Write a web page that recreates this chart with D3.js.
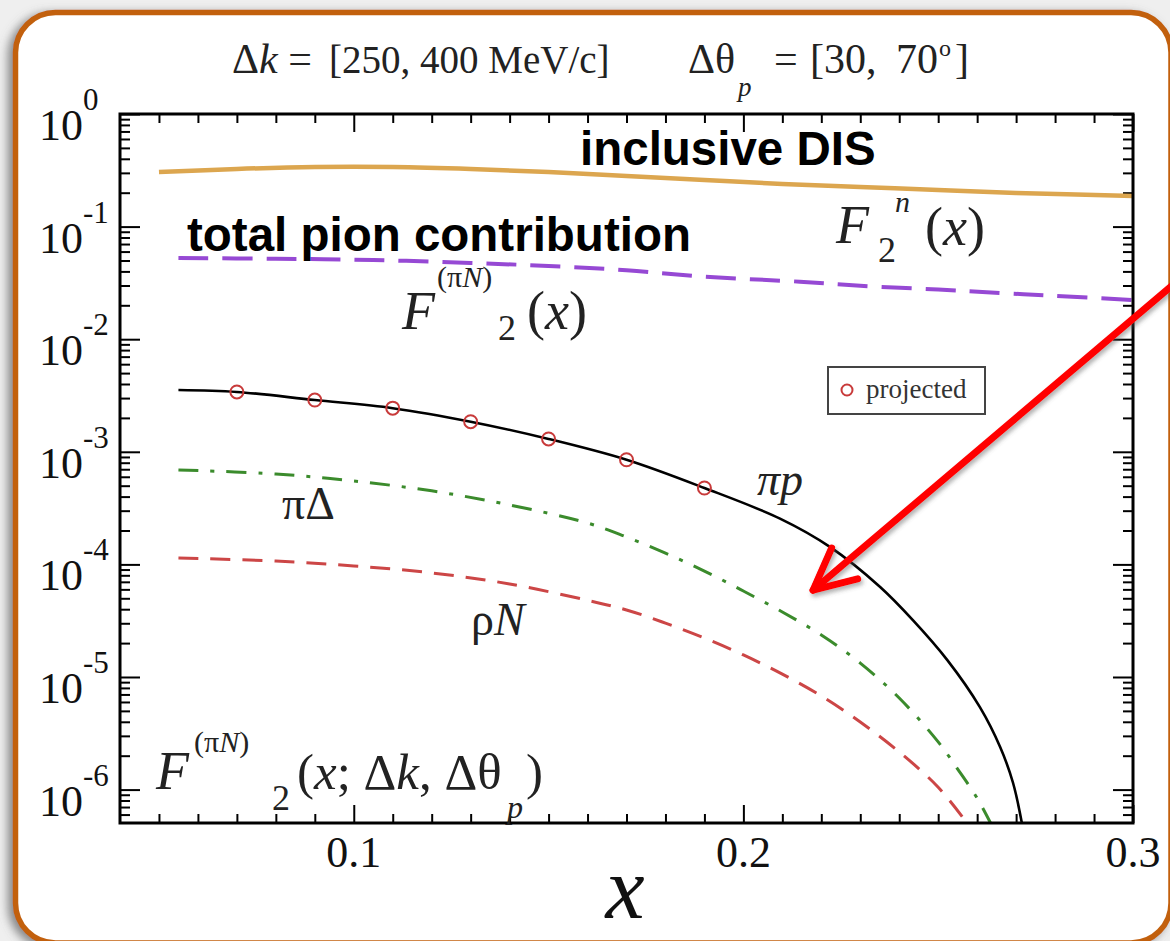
<!DOCTYPE html>
<html>
<head>
<meta charset="utf-8">
<script src="https://cdn.jsdelivr.net/npm/d3@7"></script>
<style>
  html, body { margin: 0; padding: 0; background: #efefef; }
  svg { display: block; }
</style>
</head>
<body>
<svg id="chart" width="1170" height="941"></svg>
<script>
// ---- structure-function curves F2(x) for the tagged-proton kinematics ----
const inclusiveX   = [0.05, 0.07, 0.09, 0.11, 0.13, 0.15, 0.17, 0.19, 0.21, 0.23, 0.25, 0.27, 0.30];
const inclusiveF2n = [0.305, 0.325, 0.338, 0.338, 0.325, 0.305, 0.281, 0.259, 0.239, 0.225, 0.211, 0.199, 0.187];

const pionTotalX  = [0.055, 0.08, 0.105, 0.13, 0.15, 0.17, 0.19, 0.2145, 0.23, 0.25, 0.266, 0.28, 0.30];
const pionTotalF2 = [0.0526, 0.0518, 0.0505, 0.0475, 0.0447, 0.0410, 0.0359, 0.0324, 0.0298, 0.0276, 0.0257, 0.0243, 0.0223];

const piPX  = [0.055, 0.07, 0.09, 0.11, 0.13, 0.15, 0.17, 0.19, 0.2094, 0.2222, 0.2351, 0.2435, 0.2523, 0.2607, 0.2659, 0.2692, 0.2715];
const piPF2 = [3.54e-3, 3.4e-3, 2.88e-3, 2.44e-3, 1.85e-3, 1.30e-3, 8.5e-4, 4.77e-4, 2.55e-4, 1.43e-4, 6.3e-5, 3.2e-5, 1.42e-5, 5.4e-6, 2.39e-6, 1.15e-6, 5.0e-7];

const piDeltaX  = [0.055, 0.08, 0.10, 0.12, 0.14, 0.16, 0.17, 0.18, 0.19, 0.20, 0.21, 0.22, 0.23, 0.24, 0.25, 0.255, 0.26, 0.2635];
const piDeltaF2 = [6.9e-4, 6.35e-4, 5.5e-4, 4.5e-4, 3.37e-4, 2.33e-4, 1.75e-4, 1.26e-4, 8.73e-5, 5.8e-5, 3.78e-5, 2.36e-5, 1.33e-5, 6.5e-6, 2.65e-6, 1.52e-6, 8.4e-7, 5.0e-7];

const rhoNX  = [0.055, 0.08, 0.10, 0.12, 0.14, 0.16, 0.17, 0.18, 0.19, 0.20, 0.21, 0.22, 0.23, 0.24, 0.25, 0.2575];
const rhoNF2 = [1.14e-4, 1.07e-4, 9.7e-5, 8.4e-5, 6.7e-5, 4.8e-5, 3.94e-5, 3.01e-5, 2.22e-5, 1.57e-5, 1.06e-5, 6.78e-6, 3.98e-6, 2.16e-6, 1.05e-6, 5.0e-7];

// projected measurement points on the pi-p curve
const projectedX  = [0.07, 0.09, 0.11, 0.13, 0.15, 0.17, 0.19];
const projectedF2 = [3.4e-3, 2.88e-3, 2.44e-3, 1.85e-3, 1.30e-3, 8.5e-4, 4.77e-4];

// axis ticks
const xMajorTicks  = [0.1, 0.2, 0.3];
const xTickLabels  = ["0.1", "0.2", "0.3"];
const yDecades     = [0, -1, -2, -3, -4, -5, -6];

// annotation arrow target (data coordinates)
const arrowTipX = 0.2179, arrowTipF2 = 5.9e-5;

// ---------------------------------------------------------------------------
const svg = d3.select("#chart");
const plot = { left: 120, right: 1133, top: 114, bottom: 823 };

const serif = "'Liberation Serif', 'Times New Roman', serif";
const sans  = "'Liberation Sans', Arial, sans-serif";

const defs = svg.append("defs");
const shadow = defs.append("filter").attr("id", "cardShadow")
  .attr("x", "-5%").attr("y", "-5%").attr("width", "110%").attr("height", "110%");
shadow.append("feDropShadow").attr("dx", -5).attr("dy", 3)
  .attr("stdDeviation", 5).attr("flood-color", "#666").attr("flood-opacity", 0.75);
const arrowShadow = defs.append("filter").attr("id", "arrowShadow")
  .attr("x", "-20%").attr("y", "-20%").attr("width", "140%").attr("height", "140%");
arrowShadow.append("feDropShadow").attr("dx", 2).attr("dy", 3)
  .attr("stdDeviation", 2).attr("flood-color", "#555").attr("flood-opacity", 0.45);
defs.append("clipPath").attr("id", "plotClip").append("rect")
  .attr("x", plot.left).attr("y", plot.top)
  .attr("width", plot.right - plot.left).attr("height", plot.bottom - plot.top);

// card with orange rounded border
svg.append("rect")
  .attr("x", 15.5).attr("y", 12.5).attr("width", 1155.5).attr("height", 930.5)
  .attr("rx", 40).attr("ry", 40)
  .attr("fill", "#fff").attr("stroke", "#c2600f").attr("stroke-width", 5.5)
  .attr("filter", "url(#cardShadow)");

// scales
const x = d3.scaleLinear().domain([0.04, 0.3]).range([plot.left, plot.right]);
const y = d3.scaleLog().domain([5.05e-7, 1]).range([plot.bottom, plot.top]);

// ---- ticks (inward on all four sides) ----
const xMinor = d3.range(5, 30).map(i => i / 100).filter(v => !xMajorTicks.some(m => Math.abs(m - v) < 1e-9));
const yMinor = [];
for (let k = -7; k < 0; k++) for (let m = 2; m <= 9; m++) {
  const v = m * Math.pow(10, k);
  if (v > y.domain()[0] && v < 1) yMinor.push(v);
}
const yMajor = yDecades.map(e => Math.pow(10, e));

function tickAxis(axisFn, scale, values, size, transform) {
  const g = svg.append("g").attr("transform", transform)
    .call(axisFn(scale).tickValues(values).tickSize(size).tickFormat(""));
  g.select(".domain").remove();
  g.selectAll(".tick line").attr("stroke", "#000").attr("stroke-width", 2);
  return g;
}
tickAxis(d3.axisBottom, x, xMajorTicks, -18, `translate(0,${plot.bottom})`);
tickAxis(d3.axisBottom, x, xMinor, -9, `translate(0,${plot.bottom})`);
tickAxis(d3.axisTop, x, xMajorTicks, -18, `translate(0,${plot.top})`);
tickAxis(d3.axisTop, x, xMinor, -9, `translate(0,${plot.top})`);
tickAxis(d3.axisLeft, y, yMajor, -20, `translate(${plot.left},0)`);
tickAxis(d3.axisLeft, y, yMinor, -10, `translate(${plot.left},0)`);
tickAxis(d3.axisRight, y, yMajor, -20, `translate(${plot.right},0)`);
tickAxis(d3.axisRight, y, yMinor, -10, `translate(${plot.right},0)`);

// tick labels
svg.append("g").selectAll("text").data(xMajorTicks).join("text")
  .attr("x", d => x(d)).attr("y", 867)
  .attr("text-anchor", "middle").attr("font-family", serif).attr("font-size", 44)
  .attr("fill", "#111")
  .text((d, i) => xTickLabels[i]);

const yLab = svg.append("g").selectAll("g").data(yDecades).join("g");
yLab.append("text")
  .attr("x", 83).attr("y", d => y(Math.pow(10, d)) + 26)
  .attr("text-anchor", "end").attr("font-family", serif).attr("font-size", 44)
  .attr("fill", "#111").text("10");
yLab.append("text")
  .attr("x", 83).attr("y", d => y(Math.pow(10, d)) - 4)
  .attr("font-family", serif).attr("font-size", 31).attr("fill", "#111")
  .text(d => d === 0 ? "0" : "-" + Math.abs(d));

// axis title
svg.append("text").attr("x", 625).attr("y", 918).attr("text-anchor", "middle")
  .attr("font-family", serif).attr("font-style", "italic").attr("font-size", 88)
  .attr("fill", "#111").text("x");

// ---- curves ----
const line = d3.line().x(d => x(d[0])).y(d => y(d[1])).curve(d3.curveCatmullRom.alpha(0.5));
const curves = svg.append("g").attr("clip-path", "url(#plotClip)").attr("fill", "none");

const series = [
  { xs: inclusiveX, ys: inclusiveF2n, color: "#dca64f", width: 4.5, dash: null },
  { xs: pionTotalX, ys: pionTotalF2, color: "#9649d4", width: 4, dash: "30,14" },
  { xs: piDeltaX,   ys: piDeltaF2,   color: "#3b8b2c", width: 3, dash: "20,12,4,12" },
  { xs: rhoNX,      ys: rhoNF2,      color: "#cc4646", width: 3, dash: "20,12" },
  { xs: piPX,       ys: piPF2,       color: "#000",    width: 2.6, dash: null }
];
series.forEach(s => {
  curves.append("path")
    .attr("d", line(d3.zip(s.xs, s.ys)))
    .attr("stroke", s.color).attr("stroke-width", s.width)
    .attr("stroke-dasharray", s.dash);
});

// projected points
svg.append("g").selectAll("circle").data(d3.zip(projectedX, projectedF2)).join("circle")
  .attr("cx", d => x(d[0])).attr("cy", d => y(d[1])).attr("r", 6.5)
  .attr("fill", "none").attr("stroke", "#c83a3a").attr("stroke-width", 2);

// frame
svg.append("rect")
  .attr("x", plot.left).attr("y", plot.top)
  .attr("width", plot.right - plot.left).attr("height", plot.bottom - plot.top)
  .attr("fill", "none").attr("stroke", "#000").attr("stroke-width", 3);

// legend
svg.append("rect").attr("x", 828).attr("y", 367).attr("width", 157).attr("height", 47)
  .attr("fill", "#fff").attr("stroke", "#444").attr("stroke-width", 2);
svg.append("circle").attr("cx", 847).attr("cy", 390).attr("r", 5.5)
  .attr("fill", "none").attr("stroke", "#c83a3a").attr("stroke-width", 2);
svg.append("text").attr("x", 866).attr("y", 398)
  .attr("font-family", serif).attr("font-size", 27).attr("fill", "#333").text("projected");

// ---- text helper ----
function addText(xp, yp, size, parts, color) {
  const t = svg.append("text").attr("x", xp).attr("y", yp)
    .attr("font-family", serif).attr("font-size", size).attr("fill", color || "#222");
  parts.forEach(p => {
    const s = t.append("tspan").text(p.t);
    if (p.i) s.attr("font-style", "italic");
    if (p.size) s.attr("font-size", p.size);
    if (p.dy) s.attr("dy", p.dy);
    if (p.dx) s.attr("dx", p.dx);
  });
  return t;
}

// ---- title ----
addText(232, 73, 42, [{ t: "Δ" }, { t: "k", i: true }, { t: " =" }]);
addText(329, 73, 39, [{ t: "[250, 400 MeV/c]" }]);
addText(688, 73, 42, [{ t: "Δθ" }]);
addText(738, 96, 27, [{ t: "p", i: true }]);
addText(774, 73, 42, [{ t: "=" }]);
addText(810, 73, 42, [{ t: "[30," }]);
addText(896, 73, 42, [{ t: "70" }]);
addText(939, 56, 24, [{ t: "o" }]);
addText(955, 73, 42, [{ t: "]" }]);

// ---- curve annotations ----
svg.append("text").attr("x", 580).attr("y", 165)
  .attr("font-family", sans).attr("font-weight", "bold").attr("font-size", 47.5)
  .attr("fill", "#000").text("inclusive DIS");
svg.append("text").attr("x", 187).attr("y", 251)
  .attr("font-family", sans).attr("font-weight", "bold").attr("font-size", 47.5)
  .attr("fill", "#000").text("total pion contribution");

// F2^n(x)
addText(836, 243, 54, [{ t: "F", i: true }]);
addText(878, 262, 36, [{ t: "2" }]);
addText(895, 212, 30, [{ t: "n", i: true }]);
addText(925, 245, 54, [{ t: "(" }, { t: "x", i: true }, { t: ")" }]);

// F^(piN)_2(x)
addText(402, 329, 54, [{ t: "F", i: true }]);
addText(437, 287, 30, [{ t: "(π" }, { t: "N", i: true }, { t: ")" }]);
addText(498, 340, 36, [{ t: "2" }]);
addText(527, 329, 54, [{ t: "(" }, { t: "x", i: true }, { t: ")" }]);

// F^(piN)_2(x; dk, dtheta_p)
addText(156, 789, 54, [{ t: "F", i: true }]);
addText(194, 752, 30, [{ t: "(π" }, { t: "N", i: true }, { t: ")" }]);
addText(272, 810, 36, [{ t: "2" }]);
addText(297, 789, 51, [{ t: "(" }, { t: "x", i: true }, { t: "; Δ" }, { t: "k", i: true }, { t: ", Δθ" }]);
addText(507, 818, 32, [{ t: "p", i: true }]);
addText(526, 789, 51, [{ t: ")" }]);

// channel labels
addText(757, 495, 46, [{ t: "π", i: true }, { t: "p", i: true }]);
addText(282, 519, 46, [{ t: "πΔ" }]);
addText(471, 635, 46, [{ t: "ρ" }, { t: "N", i: true }]);

// ---- red arrow ----
const tip = [x(arrowTipX), y(arrowTipF2)];
const ang = Math.atan2(-303, 357);          // direction from tip back toward the tail
const tail = [tip[0] + 560 * Math.cos(ang), tip[1] + 560 * Math.sin(ang)];
const headLen = 46, spread = 26 * Math.PI / 180;
const arrow = svg.append("g").attr("stroke", "#ff0000").attr("stroke-width", 7)
  .attr("stroke-linecap", "round").attr("fill", "none").attr("filter", "url(#arrowShadow)");
arrow.append("path").attr("d", d3.line()([
  [tip[0] + headLen * Math.cos(ang - spread), tip[1] + headLen * Math.sin(ang - spread)],
  tip,
  [tip[0] + headLen * Math.cos(ang + spread), tip[1] + headLen * Math.sin(ang + spread)]
])).attr("stroke-linejoin", "round");
arrow.append("line").attr("x1", tip[0]).attr("y1", tip[1]).attr("x2", tail[0]).attr("y2", tail[1]);
</script>
</body>
</html>
